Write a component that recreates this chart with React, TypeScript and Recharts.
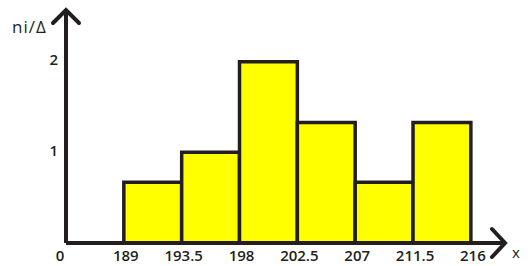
import React from 'react';
import { ComposedChart, XAxis, YAxis, ReferenceArea, Line } from 'recharts';

// histogram bins: left edge, right edge, ni/Δ
const binStarts = [189, 193.5, 198, 202.5, 207, 211.5];
const binEnds = [193.5, 198, 202.5, 207, 211.5, 216];
const binValues = [0.67, 1, 2, 1.33, 0.67, 1.33];

const xTicks = [184.5, 189, 193.5, 198, 202.5, 207, 211.5, 216];
const yTicks = [1, 2];

const INK = '#231f20';
const FONT = '"Open Sans", "Liberation Sans", sans-serif';

const data = binStarts.map((s, i) => ({ x: (s + binEnds[i]) / 2, v: binValues[i] }));

const XTick = (props: any) => {
  const { x, y, payload } = props;
  const first = payload.value === xTicks[0];
  return (
    <text x={first ? x - 6 : x + 2} y={y} dy="0.71em" textAnchor="middle"
      fill={INK} fontSize={15} fontWeight={600} fontFamily={FONT}>
      {first ? '0' : String(payload.value)}
    </text>
  );
};

const App: React.FC = () => {
  return (
    <div style={{ position: 'absolute', left: 0, top: 0, width: 531, height: 266, background: '#fff' }}>
      <ComposedChart width={531} height={266} data={data} margin={{ top: 10, right: 28, bottom: 0, left: 0 }}>
        <XAxis
          dataKey="x"
          type="number"
          domain={[184.5, 218.5]}
          ticks={xTicks}
          height={23}
          tickLine={false}
          tickSize={0}
          tickMargin={7}
          axisLine={{ stroke: INK, strokeWidth: 4 }}
          tick={<XTick />}
          interval={0}
          allowDataOverflow
        />
        <YAxis
          type="number"
          domain={[0, 2.57]}
          ticks={yTicks}
          width={66}
          tickLine={false}
          tickSize={0}
          tickMargin={8}
          axisLine={{ stroke: INK, strokeWidth: 4 }}
          tick={{ fill: INK, fontSize: 15, fontWeight: 600, fontFamily: FONT, dy: -2 }}
          allowDataOverflow
        />
        {binStarts.map((s, i) => (
          <ReferenceArea
            key={s}
            x1={s}
            x2={binEnds[i]}
            y1={0}
            y2={binValues[i]}
            fill="#ffff00"
            fillOpacity={1}
            stroke={INK}
            strokeWidth={3.5}
            strokeOpacity={1}
            ifOverflow="visible"
          />
        ))}
        <Line dataKey="v" stroke="none" dot={false} activeDot={false} isAnimationActive={false} />
      </ComposedChart>
      <svg width={531} height={266} style={{ position: 'absolute', left: 0, top: 0, pointerEvents: 'none' }}>
        <line x1={66} y1={243} x2={504} y2={243} stroke={INK} strokeWidth={4} />
        <polyline points="53,23 66,10 79,23" fill="none" stroke={INK} strokeWidth={4} strokeLinecap="round" />
        <polyline points="492,229 505,243 492,257" fill="none" stroke={INK} strokeWidth={4} strokeLinecap="round" />
        <text x={12} y={33} fontSize={17} fill={INK} fontFamily={FONT} letterSpacing={1}>ni/Δ</text>
        <text x={512} y={258} fontSize={15} fill={INK} fontFamily={FONT}>x</text>
      </svg>
    </div>
  );
};

export default App;
